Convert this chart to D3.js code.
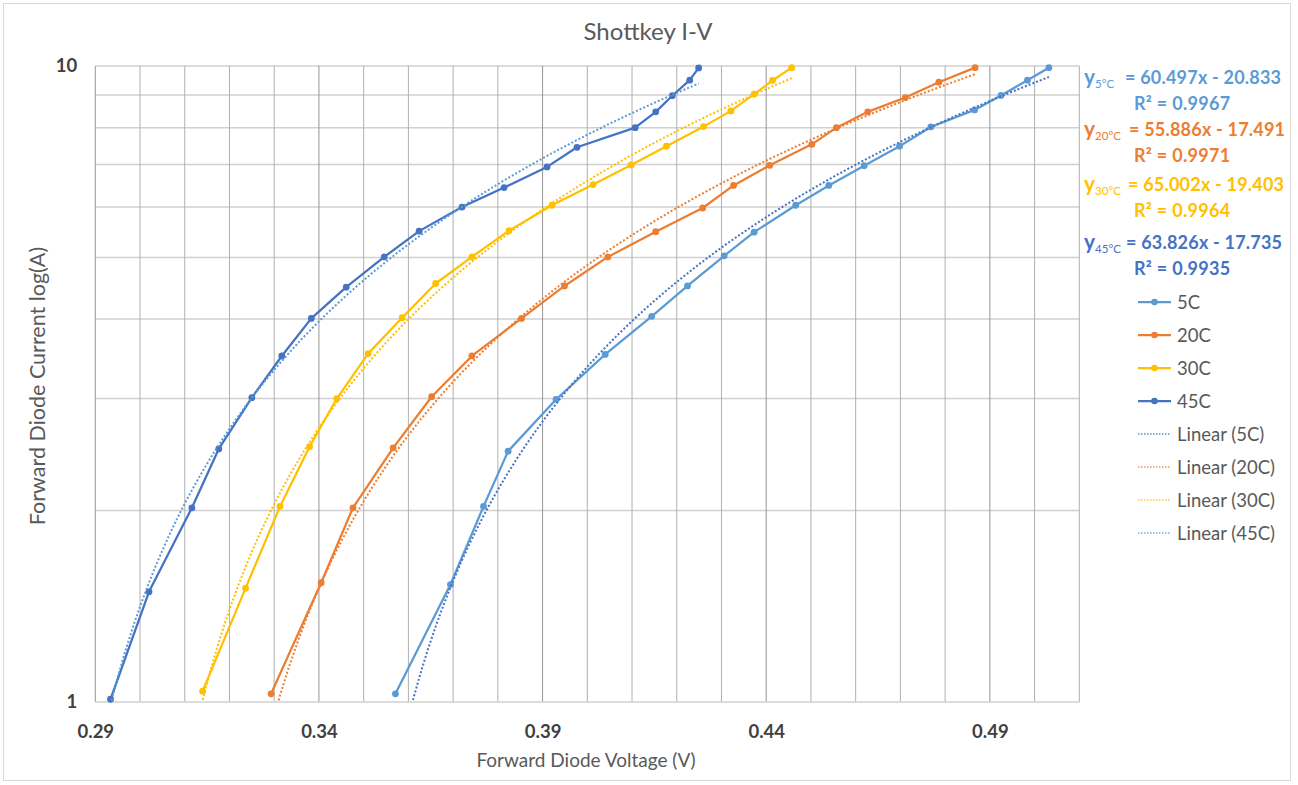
<!DOCTYPE html>
<html>
<head>
<meta charset="utf-8">
<script src="https://d3js.org/d3.v7.min.js"></script>
<style>
  body { margin: 0; background: #fff; }
  svg { display: block; font-family: Lato, "Open Sans", sans-serif; }
</style>
</head>
<body>
<svg id="chart" width="1298" height="785"></svg>
<script>
// series names / colours
var seriesNames = ["5C", "20C", "30C", "45C"];
var seriesColors = ["#5B9BD5", "#ED7D31", "#FFC000", "#4472C4"];
var trendColors = ["#4472C4", "#ED7D31", "#FFC000", "#5B9BD5"];
var subLabels = ["5°C", "20°C", "30°C", "45°C"];

// forward voltage (V) and current (A)
var volts5 = [0.3571, 0.3694, 0.3768, 0.3823, 0.3930, 0.4040, 0.4144, 0.4224, 0.4306, 0.4373, 0.4466, 0.4540, 0.4619, 0.4698, 0.4768, 0.4866, 0.4925, 0.4984, 0.5032];
var amps5 = [1.03, 1.53, 2.03, 2.48, 2.99, 3.52, 4.04, 4.51, 5.03, 5.48, 6.04, 6.49, 6.97, 7.48, 8.02, 8.53, 8.99, 9.5, 9.94];
var volts20 = [0.3293, 0.3405, 0.3476, 0.3566, 0.3652, 0.3742, 0.3853, 0.3949, 0.4046, 0.4153, 0.4258, 0.4327, 0.4408, 0.4502, 0.4557, 0.4627, 0.4711, 0.4786, 0.4867];
var amps20 = [1.03, 1.54, 2.02, 2.51, 3.02, 3.5, 4.01, 4.51, 5.01, 5.49, 5.98, 6.49, 6.98, 7.53, 8.0, 8.47, 8.92, 9.43, 9.94];
var volts30 = [0.3140, 0.3236, 0.3313, 0.3379, 0.3440, 0.3510, 0.3586, 0.3661, 0.3742, 0.3825, 0.3921, 0.4013, 0.4098, 0.4177, 0.4260, 0.4321, 0.4373, 0.4414, 0.4457];
var amps30 = [1.04, 1.51, 2.03, 2.52, 3.0, 3.53, 4.02, 4.55, 5.01, 5.51, 6.04, 6.51, 6.99, 7.48, 8.03, 8.5, 9.03, 9.49, 9.94];
var volts45 = [0.2934, 0.3020, 0.3116, 0.3176, 0.3250, 0.3317, 0.3383, 0.3461, 0.3546, 0.3624, 0.3720, 0.3814, 0.3910, 0.3977, 0.4107, 0.4153, 0.4190, 0.4229, 0.4249];
var amps45 = [1.01, 1.49, 2.02, 2.5, 3.01, 3.5, 4.01, 4.49, 5.01, 5.5, 6.0, 6.44, 6.94, 7.45, 8.0, 8.47, 8.98, 9.5, 9.93];

// linear trendlines I = m*V + b
var slopes = [60.497, 55.886, 65.002, 63.826];
var intercepts = [-20.833, -17.491, -19.403, -17.735];
var rSquared = ["0.9967", "0.9971", "0.9964", "0.9935"];

var xTicks = [0.29, 0.34, 0.39, 0.44, 0.49];
var yTicks = [1, 10];

var voltsAll = [volts5, volts20, volts30, volts45];
var ampsAll = [amps5, amps20, amps30, amps45];

var svg = d3.select("#chart");
var pLeft = 95.3, pRight = 1079.3, pTop = 66, pBottom = 702;

var x = d3.scaleLinear().domain([0.29, 0.51]).range([pLeft, pRight]);
var y = d3.scaleLog().domain([1, 10]).range([pBottom, pTop]);

// chart border
svg.append("rect")
  .attr("x", 3.5).attr("y", 3.5).attr("width", 1287).attr("height", 777)
  .attr("fill", "none").attr("stroke", "#d9d9d9");

// title
svg.append("text")
  .attr("x", 648).attr("y", 40)
  .attr("text-anchor", "middle")
  .attr("font-size", 24).attr("fill", "#595959")
  .text("Shottkey I-V");

// grid
var grid = svg.append("g");
grid.selectAll(".hg")
  .data(d3.range(2, 11))
  .join("line")
  .attr("x1", pLeft).attr("x2", pRight)
  .attr("y1", function(d) { return y(d); }).attr("y2", function(d) { return y(d); })
  .attr("stroke", "#d0d0d0").attr("stroke-width", 1.5);

grid.selectAll(".vg")
  .data(d3.range(23).map(function(i) { return +(0.29 + i * 0.01).toFixed(2); }))
  .join("line")
  .attr("x1", function(d) { return x(d); }).attr("x2", function(d) { return x(d); })
  .attr("y1", pTop).attr("y2", pBottom)
  .attr("stroke", function(d, i) { return i % 5 === 0 ? "#959595" : "#b0b0b0"; })
  .attr("stroke-width", 1);

// bottom axis line
svg.append("line")
  .attr("x1", pLeft).attr("x2", pRight).attr("y1", pBottom).attr("y2", pBottom)
  .attr("stroke", "#d0d0d0").attr("stroke-width", 1.5);

// axes (labels only)
var xAxis = svg.append("g")
  .attr("transform", "translate(0," + (pBottom + 20) + ")")
  .call(d3.axisBottom(x).tickValues(xTicks).tickSize(0).tickFormat(d3.format(".2f")));
var yAxis = svg.append("g")
  .attr("transform", "translate(" + (pLeft - 15) + ",0)")
  .call(d3.axisLeft(y).tickValues(yTicks).tickSize(0).tickFormat(d3.format("d")));
[xAxis, yAxis].forEach(function(a) {
  a.select(".domain").remove();
  a.selectAll("text")
    .attr("font-family", "Lato, sans-serif")
    .attr("font-size", 18.5).attr("font-weight", "bold").attr("fill", "#404040");
});

svg.append("text")
  .attr("x", 586).attr("y", 767)
  .attr("text-anchor", "middle")
  .attr("font-size", 19).attr("fill", "#595959")
  .text("Forward Diode Voltage (V)");
svg.append("text")
  .attr("transform", "translate(45,386) rotate(-90)")
  .attr("text-anchor", "middle")
  .attr("font-size", 21.5).attr("fill", "#595959")
  .text("Forward Diode Current log(A)");

// clip to plot area
svg.append("clipPath").attr("id", "plotclip")
  .append("rect").attr("x", pLeft).attr("y", pTop - 6).attr("width", pRight - pLeft).attr("height", pBottom - pTop + 6);

var plot = svg.append("g");
var line = d3.line()
  .x(function(d) { return x(d[0]); })
  .y(function(d) { return y(d[1]); });

seriesNames.forEach(function(name, s) {
  var pts = voltsAll[s].map(function(v, i) { return [v, ampsAll[s][i]]; });
  plot.append("path")
    .datum(pts)
    .attr("d", line)
    .attr("fill", "none")
    .attr("stroke", seriesColors[s])
    .attr("stroke-width", 2.25)
    .attr("stroke-linejoin", "round");
  plot.selectAll(".m" + s)
    .data(pts)
    .join("circle")
    .attr("cx", function(d) { return x(d[0]); })
    .attr("cy", function(d) { return y(d[1]); })
    .attr("r", 3.4)
    .attr("fill", seriesColors[s]);
});

// trendlines over the data range of each series
var trend = svg.append("g").attr("clip-path", "url(#plotclip)");
seriesNames.forEach(function(name, s) {
  var ext = d3.extent(voltsAll[s]);
  var pts = d3.range(81).map(function(i) {
    var v = ext[0] + (ext[1] - ext[0]) * i / 80;
    return [v, Math.max(0.5, slopes[s] * v + intercepts[s])];
  });
  trend.append("path")
    .datum(pts)
    .attr("d", line)
    .attr("fill", "none")
    .attr("stroke", trendColors[s])
    .attr("stroke-width", 2)
    .attr("stroke-dasharray", "2,2");
});

// equations: "y" + subscript, then the fit text starting at the "=" column
var eqY = [78, 130, 185, 243];
var eqX = [1125, 1129, 1128, 1126];
var eq = svg.append("g").attr("font-weight", "bold").attr("font-size", 18);
seriesNames.forEach(function(name, s) {
  var t = eq.append("text")
    .attr("x", 1084).attr("y", eqY[s] + 6)
    .attr("fill", seriesColors[s]);
  t.append("tspan").attr("font-size", 21).text("y");
  t.append("tspan").attr("font-size", 11.5).attr("font-weight", "normal").attr("dy", 4).text(subLabels[s]);
  eq.append("text")
    .attr("x", eqX[s]).attr("y", eqY[s] + 6)
    .attr("letter-spacing", 0.2)
    .attr("fill", seriesColors[s])
    .text("= " + slopes[s].toFixed(3) + "x - " + (-intercepts[s]).toFixed(3));
  eq.append("text")
    .attr("x", 1134).attr("y", eqY[s] + 32)
    .attr("letter-spacing", 0.3)
    .attr("fill", seriesColors[s])
    .text("R² = " + rSquared[s]);
});

// legend
var legY = [302, 335, 368, 401, 434, 467, 500, 533];
var leg = svg.append("g");
seriesNames.forEach(function(name, s) {
  var g = leg.append("g").attr("transform", "translate(0," + legY[s] + ")");
  g.append("line").attr("x1", 1138).attr("x2", 1171)
    .attr("stroke", seriesColors[s]).attr("stroke-width", 2.25);
  g.append("circle").attr("cx", 1154.5).attr("r", 3.3).attr("fill", seriesColors[s]);
  g.append("text").attr("x", 1177).attr("y", 6.5)
    .attr("font-size", 18.5).attr("fill", "#595959").text(name);
});
seriesNames.forEach(function(name, s) {
  var g = leg.append("g").attr("transform", "translate(0," + legY[s + 4] + ")");
  g.append("line").attr("x1", 1138).attr("x2", 1171)
    .attr("stroke", trendColors[s]).attr("stroke-width", 1.5)
    .attr("stroke-dasharray", "1.5,1.5").attr("opacity", 0.8);
  g.append("text").attr("x", 1177).attr("y", 6.5)
    .attr("font-size", 18.5).attr("fill", "#595959").text("Linear (" + name + ")");
});
</script>
</body>
</html>
